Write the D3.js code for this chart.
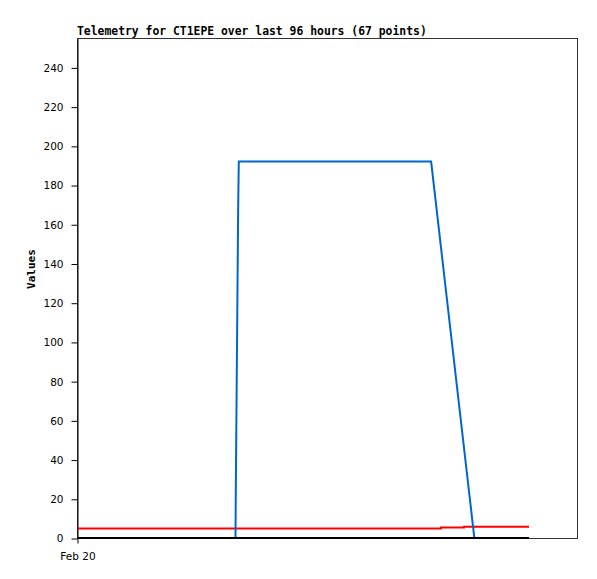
<!DOCTYPE html>
<html>
<head>
<meta charset="utf-8">
<script src="https://cdn.jsdelivr.net/npm/d3@7"></script>
<style>
  body { margin: 0; background: #fff; }
  .title { font-family: "DejaVu Sans Mono", monospace; font-weight: bold; font-size: 11.4px; }
  .ylabel { font-family: "DejaVu Sans Mono", monospace; font-weight: bold; font-size: 11px; }
  .axis text { font-family: "DejaVu Sans", sans-serif; font-size: 10.5px; fill: #000; }
  .axis path, .axis line { stroke: #000; }
</style>
</head>
<body>
<div id="chart"></div>
<script>
// hours since Feb 20 00:00, value
const blueSeries = [[0, 0], [30.24, 0], [30.3, 25], [30.45, 73], [30.6, 120], [30.75, 168], [30.87, 192],
  [67.8, 192], [76.1, 0], [86.6, 0]];
const redSeries = [[0, 4.8], [69.7, 4.8], [69.7, 5.3], [74.1, 5.3], [74.1, 5.8], [86.6, 5.8]];
const blackSeries = [[0, 0], [86.6, 0]];
const yTicks = [0, 20, 40, 60, 80, 100, 120, 140, 160, 180, 200, 220, 240];
const xTickLabels = ["Feb 20"];
const startTime = new Date(2024, 1, 20, 0, 0);
const titleText = "Telemetry for CT1EPE over last 96 hours (67 points)";

class TelemetryChart {
    constructor() {
        this.margin = { top: 38, right: 20, bottom: 41, left: 77 };
        this.width = 597 - this.margin.left - this.margin.right;
        this.height = 579 - this.margin.top - this.margin.bottom;

        this.xScale = d3.scaleTime()
            .domain([startTime, d3.timeHour.offset(startTime, 96)])
            .range([0, this.width]);
        this.yScale = d3.scaleLinear()
            .domain([0, 255])
            .range([this.height, 0]);
    }

    toTime(h) {
        return new Date(startTime.getTime() + h * 3600 * 1000);
    }

    renderSvg(id) {
        this.root = d3.select(id).append("svg")
            .attr("width", 597)
            .attr("height", 579);
        this.svg = this.root.append("g")
            .attr("transform", "translate(" + this.margin.left + "," + this.margin.top + ")");
    }

    renderFrame() {
        this.svg.append("rect")
            .attr("x", 0.5).attr("y", 0.5)
            .attr("width", this.width).attr("height", this.height)
            .attr("fill", "none")
            .attr("stroke", "#333");
    }

    renderAxis() {
        this.svg.append("g")
            .attr("class", "x axis")
            .attr("transform", "translate(0.5," + (this.height + 0.5) + ")")
            .call(d3.axisBottom(this.xScale)
                .tickValues([startTime])
                .tickSize(5)
                .tickPadding(9)
                .tickFormat((d, i) => xTickLabels[i]))
            .call(g => g.select(".domain").remove());

        this.svg.append("g")
            .attr("class", "y axis")
            .attr("transform", "translate(0.5,0.5)")
            .call(d3.axisLeft(this.yScale)
                .tickValues(yTicks)
                .tickSize(6)
                .tickPadding(8)
                .tickSizeOuter(0));
    }

    renderLabels() {
        this.svg.append("text")
            .attr("class", "title")
            .attr("x", 0)
            .attr("y", -3)
            .text(titleText);

        this.svg.append("text")
            .attr("class", "ylabel")
            .attr("transform", "rotate(-90)")
            .attr("x", -this.height / 2 + 19)
            .attr("y", -42)
            .style("text-anchor", "middle")
            .text("Values");
    }

    renderLines() {
        const self = this;
        const line = d3.line()
            .x(d => self.xScale(self.toTime(d[0])) + 1)
            .y(d => self.yScale(d[1]));
        const series = [
            { data: redSeries, color: "#ff0000" },
            { data: blueSeries, color: "#0066cc" },
            { data: blackSeries, color: "#000000" }
        ];
        this.svg.selectAll(".series")
            .data(series)
            .enter().append("path")
            .attr("class", "series")
            .attr("fill", "none")
            .attr("stroke", d => d.color)
            .attr("stroke-width", 2)
            .attr("d", d => line(d.data));
    }

    render(id) {
        this.renderSvg(id);
        this.renderFrame();
        this.renderAxis();
        this.renderLabels();
        this.renderLines();
    }
}

new TelemetryChart().render("#chart");
</script>
</body>
</html>
